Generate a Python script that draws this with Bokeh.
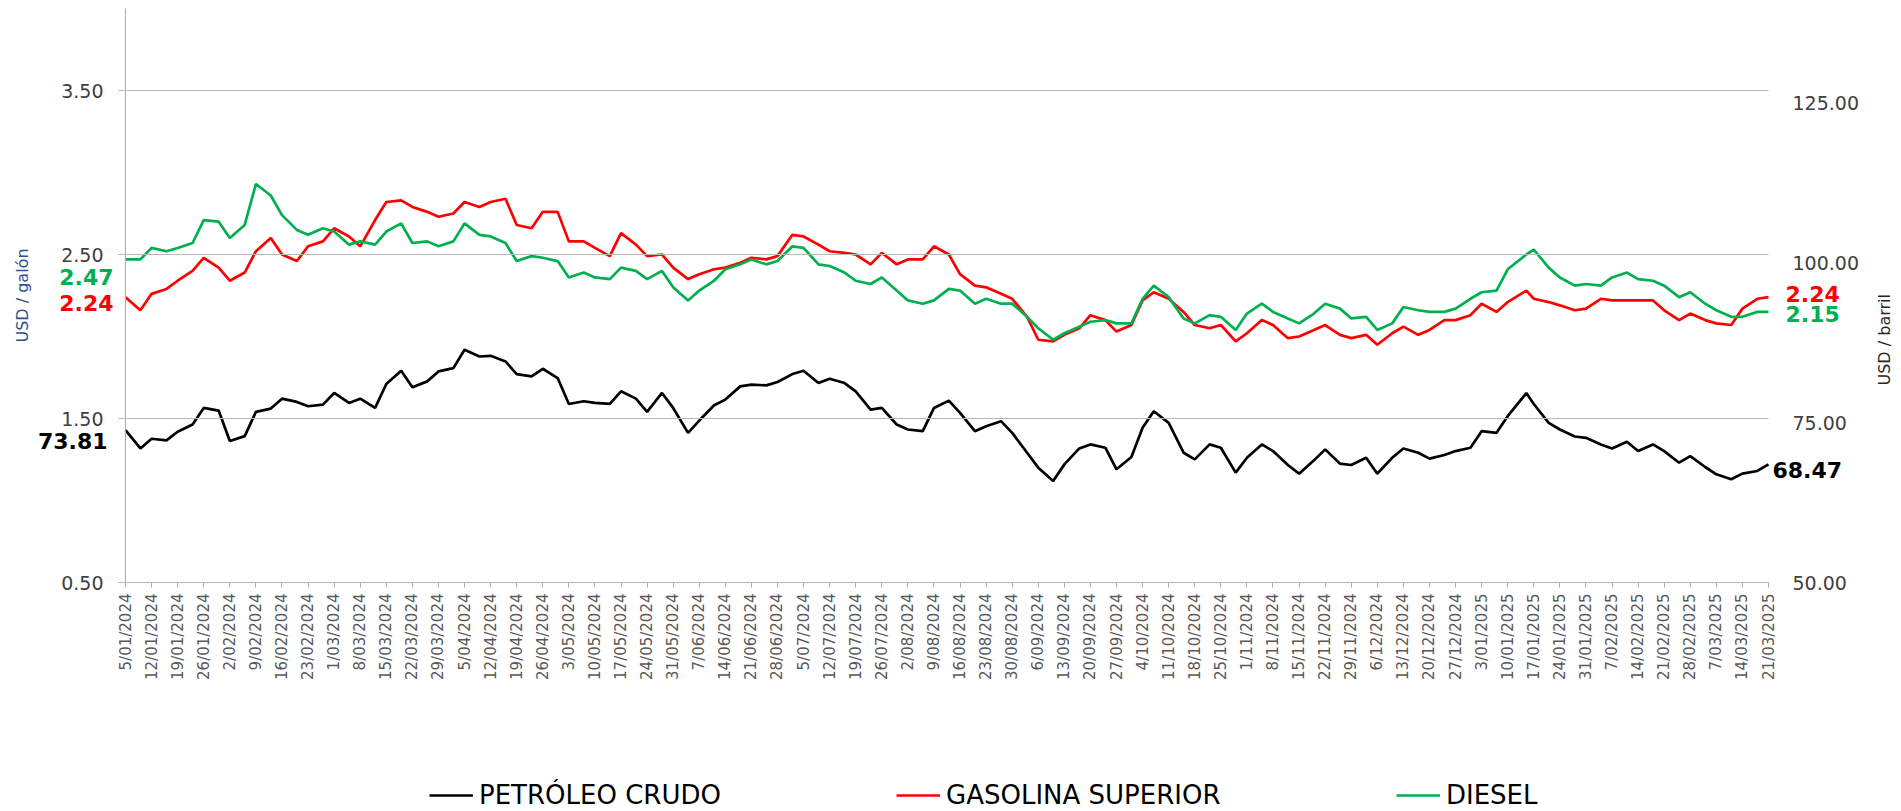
import pandas as pd
from math import pi
from bokeh.plotting import figure
from bokeh.models import (Range1d, LinearAxis, FixedTicker, PrintfTickFormatter,
                          Legend, LegendItem, Label, ColumnDataSource)
from bokeh.embed import file_html
from bokeh.resources import INLINE

# ---------------- data ----------------
dates = [
    "2024-01-05", "2024-01-09", "2024-01-12", "2024-01-16", "2024-01-19", "2024-01-23", "2024-01-26", "2024-01-30",
    "2024-02-02", "2024-02-06", "2024-02-09", "2024-02-13", "2024-02-16", "2024-02-20", "2024-02-23", "2024-02-27",
    "2024-03-01", "2024-03-05", "2024-03-08", "2024-03-12", "2024-03-15", "2024-03-19", "2024-03-22", "2024-03-26", "2024-03-29",
    "2024-04-02", "2024-04-05", "2024-04-09", "2024-04-12", "2024-04-16", "2024-04-19", "2024-04-23", "2024-04-26", "2024-04-30",
    "2024-05-03", "2024-05-07", "2024-05-10", "2024-05-14", "2024-05-17", "2024-05-21", "2024-05-24", "2024-05-28", "2024-05-31",
    "2024-06-04", "2024-06-07", "2024-06-11", "2024-06-14", "2024-06-18", "2024-06-21", "2024-06-25", "2024-06-28",
    "2024-07-02", "2024-07-05", "2024-07-09", "2024-07-12", "2024-07-16", "2024-07-19", "2024-07-23", "2024-07-26", "2024-07-30",
    "2024-08-02", "2024-08-06", "2024-08-09", "2024-08-13", "2024-08-16", "2024-08-20", "2024-08-23", "2024-08-27", "2024-08-30",
    "2024-09-03", "2024-09-06", "2024-09-10", "2024-09-13", "2024-09-17", "2024-09-20", "2024-09-24", "2024-09-27",
    "2024-10-01", "2024-10-04", "2024-10-07", "2024-10-11", "2024-10-15", "2024-10-18", "2024-10-22", "2024-10-25", "2024-10-29",
    "2024-11-01", "2024-11-05", "2024-11-08", "2024-11-12", "2024-11-15", "2024-11-19", "2024-11-22", "2024-11-26", "2024-11-29",
    "2024-12-03", "2024-12-06", "2024-12-10", "2024-12-13", "2024-12-17", "2024-12-20", "2024-12-24", "2024-12-27", "2024-12-31",
    "2025-01-03", "2025-01-07", "2025-01-10", "2025-01-15", "2025-01-17", "2025-01-21", "2025-01-24", "2025-01-28", "2025-01-31",
    "2025-02-04", "2025-02-07", "2025-02-11", "2025-02-14", "2025-02-18", "2025-02-21", "2025-02-25", "2025-02-28",
    "2025-03-04", "2025-03-07", "2025-03-11", "2025-03-14", "2025-03-18", "2025-03-21",
]

# USD / barril (right axis)
crude = [
    73.81, 70.95, 72.46, 72.20, 73.55, 74.69, 77.28, 76.87, 72.10, 72.87, 76.66, 77.18, 78.73, 78.22, 77.54, 77.80, 79.62, 78.06, 78.73, 77.28, 81.02,
    83.09, 80.50, 81.43, 82.99, 83.50, 86.36, 85.32, 85.43, 84.55, 82.57, 82.21, 83.40, 81.95, 77.90, 78.32, 78.06, 77.90, 79.88, 78.73, 76.66, 79.62,
    77.28, 73.39, 75.31, 77.70, 78.58, 80.65, 80.91, 80.81, 81.33, 82.57, 83.09, 81.17, 81.85, 81.17, 79.88, 77.02, 77.28, 74.69, 73.91, 73.65, 77.28,
    78.42, 76.50, 73.65, 74.43, 75.21, 73.39, 70.28, 67.95, 65.87, 68.46, 70.95, 71.58, 71.06, 67.69, 69.60, 74.17, 76.76, 74.95, 70.28, 69.24, 71.58, 71.06,
    67.17, 69.50, 71.58, 70.54, 68.36, 67.01, 69.09, 70.80, 68.57, 68.36, 69.50, 67.01, 69.50, 70.95, 70.28, 69.35, 69.92, 70.54, 71.06, 73.65,
    73.39, 75.99, 79.60, 77.90, 74.95, 73.91, 72.82, 72.61, 71.58, 70.95, 71.99, 70.54, 71.58, 70.54, 68.72, 69.76, 68.05, 66.91, 66.13, 67.01, 67.43, 68.47,
]

# USD / galón (left axis)
gasoline = [
    2.24, 2.16, 2.26, 2.29, 2.34, 2.40, 2.48, 2.42, 2.34, 2.39, 2.52, 2.60, 2.50, 2.46, 2.55, 2.58, 2.66, 2.61, 2.55, 2.71, 2.82,
    2.83, 2.79, 2.76, 2.73, 2.75, 2.82, 2.79, 2.82, 2.84, 2.68, 2.66, 2.76, 2.76, 2.58, 2.58, 2.54, 2.49, 2.63, 2.56, 2.49, 2.50,
    2.42, 2.35, 2.38, 2.41, 2.42, 2.45, 2.48, 2.47, 2.49, 2.62, 2.61, 2.56, 2.52, 2.51, 2.50, 2.44, 2.51, 2.44, 2.47, 2.47, 2.55,
    2.50, 2.38, 2.31, 2.30, 2.26, 2.23, 2.12, 1.98, 1.97, 2.01, 2.05, 2.13, 2.10, 2.03, 2.07, 2.22, 2.27, 2.23, 2.15, 2.07, 2.05, 2.07,
    1.97, 2.02, 2.10, 2.07, 1.99, 2.00, 2.04, 2.07, 2.01, 1.99, 2.01, 1.95, 2.02, 2.06, 2.01, 2.04, 2.10, 2.10, 2.13, 2.20,
    2.15, 2.21, 2.28, 2.23, 2.21, 2.19, 2.16, 2.17, 2.23, 2.22, 2.22, 2.22, 2.22, 2.16, 2.10, 2.14, 2.10, 2.08, 2.07, 2.17, 2.23, 2.24,
]

diesel = [
    2.47, 2.47, 2.54, 2.52, 2.54, 2.57, 2.71, 2.70, 2.60, 2.68, 2.93, 2.86, 2.74, 2.65, 2.62, 2.66, 2.64, 2.56, 2.58, 2.56, 2.64,
    2.69, 2.57, 2.58, 2.55, 2.58, 2.69, 2.62, 2.61, 2.57, 2.46, 2.49, 2.48, 2.46, 2.36, 2.39, 2.36, 2.35, 2.42, 2.40, 2.35, 2.40,
    2.30, 2.22, 2.28, 2.34, 2.41, 2.44, 2.47, 2.44, 2.46, 2.55, 2.54, 2.44, 2.43, 2.39, 2.34, 2.32, 2.36, 2.28, 2.22, 2.20, 2.22,
    2.29, 2.28, 2.20, 2.23, 2.20, 2.20, 2.12, 2.05, 1.98, 2.02, 2.06, 2.09, 2.10, 2.08, 2.08, 2.23, 2.31, 2.24, 2.11, 2.08, 2.13, 2.12,
    2.04, 2.14, 2.20, 2.15, 2.11, 2.08, 2.14, 2.20, 2.17, 2.11, 2.12, 2.04, 2.08, 2.18, 2.16, 2.15, 2.15, 2.17, 2.23, 2.27,
    2.28, 2.41, 2.50, 2.53, 2.42, 2.36, 2.31, 2.32, 2.31, 2.36, 2.39, 2.35, 2.34, 2.31, 2.24, 2.27, 2.20, 2.16, 2.12, 2.12, 2.15, 2.15,
]

series_names = ["PETRÓLEO CRUDO", "GASOLINA SUPERIOR", "DIESEL"]
left_ticks = [0.5, 1.5, 2.5, 3.5]
right_ticks = [50, 75, 100, 125]
left_lim = (0.5, 4.0)
right_lim = (50.0, 139.7)

# ---------------- layout / styling ----------------
W, H = 1900, 810
FL, FR, FT, FB = 125, 1768, 8, 582          # pixel box of the data area on the canvas
LEGEND_X = [429, 896, 1396]                 # left edge of each legend entry (pixels)
FONT = "DejaVu Sans"
BLACK, RED, GREEN = "#000000", "#FF0000", "#00B050"
AXIS_GRAY = "#ABABAB"
GRID_GRAY = "#B8B8B8"
LABEL_GRAY = "#404040"

x = pd.to_datetime(dates)
x_ms = [int(ts.value // 10**6) for ts in x]
tick_ms = x_ms[::2]                      # Fridays -> weekly ticks
tick_dates = x[::2]
tick_labels = {ms: f"{d.day}/{d.month:02d}/{d.year}" for ms, d in zip(tick_ms, tick_dates)}

# ranges padded so that the data box sits at FL..FR / FT..FB while the frame fills the canvas
mpp = (x_ms[-1] - x_ms[0]) / (FR - FL)
upp = (left_lim[1] - left_lim[0]) / (FB - FT)
cpp = (right_lim[1] - right_lim[0]) / (FB - FT)
x_range = Range1d(x_ms[0] - FL * mpp, x_ms[-1] + (W - FR) * mpp)
y_range = Range1d(left_lim[0] - (H - FB) * upp, left_lim[1] + FT * upp)
c_range = Range1d(right_lim[0] - (H - FB) * cpp, right_lim[1] + FT * cpp)

src = ColumnDataSource(dict(date=x_ms, crude=crude, gasoline=gasoline, diesel=diesel))

p = figure(width=W, height=H, x_axis_type="datetime",
           output_backend="svg", toolbar_location=None,
           x_range=x_range, y_range=y_range,
           min_border_left=0, min_border_right=0, min_border_top=0, min_border_bottom=0)
p.outline_line_color = None
p.background_fill_color = "white"
p.border_fill_color = "white"
p.extra_y_ranges = {"crude": c_range}
p.grid.visible = False

# left axis (its inward ticks double as the horizontal gridlines)
ya = p.yaxis[0]
ya.fixed_location = x_ms[0]
ya.bounds = left_lim
ya.ticker = FixedTicker(ticks=left_ticks)
ya.formatter = PrintfTickFormatter(format="%.2f")
ya.axis_line_color = AXIS_GRAY
ya.major_tick_line_color = GRID_GRAY
ya.major_tick_out = 7
ya.major_tick_in = FR - FL
ya.minor_tick_line_color = None
ya.major_label_standoff = 15
ya.major_label_text_font = FONT
ya.major_label_text_font_size = "19px"
ya.major_label_text_color = LABEL_GRAY
ya.axis_label = "USD / galón"
ya.axis_label_text_font = FONT
ya.axis_label_text_font_size = "16px"
ya.axis_label_text_font_style = "normal"
ya.axis_label_text_color = "#2F4F8F"
ya.axis_label_standoff = 26

# x axis
xa = p.xaxis[0]
xa.fixed_location = left_lim[0]
xa.bounds = (x_ms[0], x_ms[-1])
xa.ticker = FixedTicker(ticks=tick_ms)
xa.major_label_overrides = tick_labels
xa.major_label_orientation = pi / 2
xa.axis_line_color = AXIS_GRAY
xa.major_tick_line_color = AXIS_GRAY
xa.major_tick_out = 5
xa.major_tick_in = 0
xa.minor_tick_line_color = None
xa.major_label_standoff = 6
xa.major_label_text_font = FONT
xa.major_label_text_font_size = "15px"
xa.major_label_text_color = "#595959"

# right axis
ra = LinearAxis(y_range_name="crude", ticker=FixedTicker(ticks=right_ticks),
                formatter=PrintfTickFormatter(format="%.2f"))
ra.fixed_location = x_ms[-1]
ra.axis_line_color = None
ra.major_tick_line_color = None
ra.minor_tick_line_color = None
ra.major_tick_out = 0
ra.major_tick_in = 0
ra.major_label_standoff = 24
ra.major_label_text_font = FONT
ra.major_label_text_font_size = "19px"
ra.major_label_text_color = LABEL_GRAY
p.add_layout(ra, "right")

# lines
LW = 2.7
r_crude = p.line("date", "crude", source=src, line_color=BLACK, line_width=LW, y_range_name="crude")
r_gas = p.line("date", "gasoline", source=src, line_color=RED, line_width=LW)
r_dsl = p.line("date", "diesel", source=src, line_color=GREEN, line_width=LW)

# end-value labels
def value_label(xv, yv, txt, color, xoff, yoff, align, rng="default"):
    lab = Label(x=xv, y=yv, text=txt, x_offset=xoff, y_offset=yoff,
                text_align=align, text_baseline="middle", text_color=color,
                text_font=FONT, text_font_style="bold", text_font_size="22px",
                y_range_name=rng)
    p.add_layout(lab)

value_label(x_ms[0], diesel[0], f"{diesel[0]:.2f}", GREEN, -12, -18, "right")
value_label(x_ms[0], gasoline[0], f"{gasoline[0]:.2f}", RED, -12, -6, "right")
value_label(x_ms[0], crude[0], f"{crude[0]:.2f}", BLACK, -18, -11, "right", "crude")
value_label(x_ms[-1], gasoline[-1], f"{gasoline[-1]:.2f}", RED, 17, 3, "left")
value_label(x_ms[-1], diesel[-1], f"{diesel[-1]:.2f}", GREEN, 17, -2, "left")
value_label(x_ms[-1], crude[-1], f"{crude[-1]:.2f}", BLACK, 4, -6, "left", "crude")

# right axis title
p.add_layout(Label(x=x_ms[-1], y=1.98, x_offset=116, text="USD / barril", angle=pi / 2,
                   text_align="center", text_baseline="middle", text_color="#262626",
                   text_font=FONT, text_font_size="16px"))

# legend: one entry per box so every entry sits where the reference has it
for name, rend, lx in zip(series_names, [r_crude, r_gas, r_dsl], LEGEND_X):
    lg = Legend(items=[LegendItem(label=name, renderers=[rend])],
                orientation="horizontal", location=(lx, 0),
                label_text_font=FONT, label_text_font_size="26px", label_text_color="#000000",
                glyph_width=44, glyph_height=20, label_standoff=6,
                padding=0, margin=0, border_line_color=None, background_fill_alpha=0)
    p.add_layout(lg)

open("out.html", "w").write(file_html(p, INLINE))
